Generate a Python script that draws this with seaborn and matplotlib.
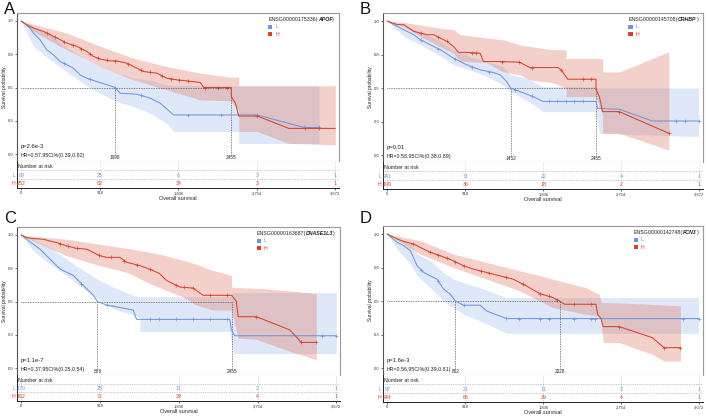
import numpy as np
import pandas as pd
import matplotlib
matplotlib.use("Agg")
import matplotlib.pyplot as plt
import seaborn as sns
from matplotlib.offsetbox import AnchoredOffsetbox, VPacker, HPacker, TextArea, DrawingArea
from matplotlib.patches import Rectangle

sns.set_theme(style="white")
plt.rcParams['font.family'] = ['Liberation Sans', 'DejaVu Sans']

# ---------------- data ----------------
risk_ticks = [0, 918, 1836, 2754, 3672]
risk_tick_labels = ['0', '918', '1,836', '2,754', '3,672']
y_ticks = [0, 0.25, 0.5, 0.75, 1.0]
y_tick_labels = ['0.0', '0.3', '0.5', '0.8', '1.0']

# Panel A  (APOF)
A_ens, A_gene = 'ENSG00000175336', 'APOF'
A_p, A_hr = 'p=2.6e-3', 'HR=0.57,95CI%(0.39,0.82)'
A_med_L, A_med_H = 1098, 2455
A_risk_L = [89, 25, 6, 3, 1]
A_risk_H = [252, 82, 34, 3, 1]
A_L_t = [0, 102, 141, 219, 297, 375, 453, 531, 609, 688, 766, 883, 1039, 1098, 1156, 1351, 1508, 1625, 1781, 2758, 3305, 3480]
A_L_s = [1.0, 0.947, 0.91, 0.859, 0.784, 0.746, 0.696, 0.671, 0.646, 0.595, 0.570, 0.545, 0.513, 0.50, 0.457, 0.45, 0.42, 0.382, 0.294, 0.294, 0.2, 0.2]
A_L_cens = [500, 800, 1100, 1400, 1950, 2330, 2760, 3300, 3480]
A_L_ci_t = [0, 141, 336, 531, 727, 922, 1117, 1312, 1508, 1703, 1781, 2543, 2543, 3480]
A_L_lo = [1, 0.81, 0.71, 0.62, 0.53, 0.457, 0.394, 0.357, 0.306, 0.23, 0.168, 0.168, 0.08, 0.08]
A_L_hi = [1, 0.96, 0.897, 0.80, 0.72, 0.658, 0.61, 0.57, 0.555, 0.52, 0.513, 0.513, 0.513, 0.513]
A_H_t = [0, 62, 141, 258, 336, 453, 531, 648, 766, 844, 922, 1039, 1117, 1234, 1312, 1430, 1586, 1703, 1820, 1937, 2094, 2133, 2455, 2455, 2504, 2543, 2758, 3129, 3672]
A_H_s = [1.0, 0.972, 0.947, 0.922, 0.897, 0.86, 0.834, 0.81, 0.771, 0.734, 0.714, 0.70, 0.70, 0.683, 0.658, 0.62, 0.608, 0.57, 0.558, 0.55, 0.538, 0.50, 0.50, 0.432, 0.382, 0.286, 0.286, 0.193, 0.193]
A_H_cens = [300, 400, 500, 600, 700, 800, 900, 1000, 1100, 1250, 1400, 1500, 1650, 1750, 1850, 1950, 2150, 2300, 2400, 2760, 3320, 3480]
A_H_ci_t = [0, 141, 531, 922, 1312, 1703, 2094, 2445, 2543, 2543, 2758, 3129, 3672]
A_H_lo = [1, 0.92, 0.784, 0.658, 0.558, 0.482, 0.407, 0.40, 0.33, 0.17, 0.17, 0.08, 0.07]
A_H_hi = [1, 0.975, 0.91, 0.81, 0.72, 0.658, 0.608, 0.578, 0.578, 0.513, 0.513, 0.513, 0.513]

# Panel B  (CRHBP)
B_ens, B_gene = 'ENSG00000145708', 'CRHBP'
B_p, B_hr = 'p=0.01', 'HR=0.58,95CI%(0.38,0.89)'
B_med_L, B_med_H = 1452, 2455
B_risk_L = [241, 71, 22, 4, 1]
B_risk_H = [100, 36, 18, 2, 1]
B_L_t = [0, 78, 195, 312, 390, 507, 624, 780, 936, 1092, 1247, 1325, 1403, 1452, 1559, 1715, 1832, 2456, 2475, 2729, 3118, 3664]
B_L_s = [1.0, 0.973, 0.935, 0.898, 0.860, 0.823, 0.786, 0.723, 0.673, 0.636, 0.616, 0.60, 0.55, 0.50, 0.474, 0.436, 0.40, 0.40, 0.349, 0.342, 0.254, 0.254]
B_L_cens = [400, 600, 800, 1000, 1200, 1500, 1700, 1900, 2000, 2100, 2200, 2300, 3400, 3500, 3664]
B_L_ci_t = [0, 195, 390, 624, 780, 975, 1169, 1364, 1442, 1637, 1832, 2456, 2495, 3664]
B_L_lo = [1, 0.885, 0.823, 0.74, 0.673, 0.636, 0.586, 0.524, 0.474, 0.41, 0.324, 0.324, 0.162, 0.137]
B_L_hi = [1, 0.97, 0.92, 0.85, 0.786, 0.735, 0.698, 0.66, 0.6, 0.574, 0.511, 0.508, 0.5, 0.5]
B_H_t = [0, 117, 195, 253, 312, 390, 468, 546, 624, 702, 780, 838, 936, 1092, 1131, 1325, 1559, 1676, 1910, 2007, 2046, 2124, 2339, 2456, 2456, 2495, 2534, 2729, 3313]
B_H_s = [1.0, 0.973, 0.973, 0.948, 0.923, 0.910, 0.898, 0.898, 0.873, 0.848, 0.810, 0.766, 0.766, 0.760, 0.698, 0.698, 0.693, 0.653, 0.653, 0.653, 0.636, 0.566, 0.566, 0.566, 0.491, 0.436, 0.324, 0.324, 0.162]
B_H_cens = [400, 600, 700, 1000, 1050, 1350, 1550, 1700, 2050, 2300, 2400, 2729, 3313]
B_H_ci_t = [0, 195, 390, 585, 780, 858, 1170, 1365, 1559, 1676, 1949, 2105, 2105, 2456, 2534, 2534, 2729, 3313]
B_H_lo = [1, 0.96, 0.885, 0.82, 0.76, 0.70, 0.69, 0.62, 0.60, 0.56, 0.54, 0.50, 0.436, 0.436, 0.30, 0.162, 0.162, 0.037]
B_H_hi = [1, 0.99, 0.97, 0.95, 0.935, 0.90, 0.873, 0.86, 0.823, 0.81, 0.786, 0.786, 0.72, 0.72, 0.72, 0.62, 0.62, 0.77]

# Panel C  (DNASE1L3)
C_ens, C_gene = 'ENSG00000163687', 'DNASE1L3'
C_p, C_hr = 'p=1.1e-7', 'HR=0.37,95CI%(0.25,0.54)'
C_med_L, C_med_H = 888, 2455
C_risk_L = [179, 25, 11, 2, 1]
C_risk_H = [162, 72, 29, 4, 1]
C_L_t = [0, 62, 140, 217, 295, 373, 450, 528, 606, 683, 761, 839, 888, 994, 1110, 1305, 1343, 1460, 2430, 2449, 2488, 3672]
C_L_s = [1.0, 0.968, 0.931, 0.894, 0.844, 0.795, 0.745, 0.72, 0.696, 0.646, 0.597, 0.547, 0.50, 0.473, 0.46, 0.436, 0.366, 0.366, 0.366, 0.287, 0.243, 0.243]
C_L_cens = [700, 1000, 1500, 1600, 1800, 2000, 2200, 2400, 3500, 3672]
C_L_ci_t = [0, 140, 334, 528, 722, 916, 1110, 1304, 1382, 1382, 2430, 2469, 3672]
C_L_lo = [1, 0.881, 0.782, 0.696, 0.597, 0.51, 0.436, 0.40, 0.38, 0.275, 0.275, 0.109, 0.109]
C_L_hi = [1, 0.968, 0.906, 0.82, 0.733, 0.658, 0.597, 0.547, 0.535, 0.535, 0.535, 0.567, 0.567]
C_H_t = [0, 62, 140, 256, 334, 411, 532, 644, 761, 839, 916, 994, 1149, 1227, 1382, 1537, 1615, 1693, 1848, 2003, 2119, 2313, 2453, 2507, 2527, 2741, 3129, 3265, 3439]
C_H_s = [1.0, 0.98, 0.973, 0.968, 0.955, 0.943, 0.918, 0.899, 0.894, 0.869, 0.844, 0.832, 0.832, 0.795, 0.770, 0.733, 0.708, 0.658, 0.609, 0.601, 0.547, 0.547, 0.547, 0.50, 0.386, 0.386, 0.287, 0.193, 0.193]
C_H_cens = [450, 550, 650, 900, 1050, 1200, 1350, 1500, 1800, 1900, 2000, 2200, 2400, 2741, 3265, 3439]
C_H_ci_t = [0, 140, 528, 916, 1227, 1499, 1693, 1887, 2042, 2236, 2450, 2450, 2527, 2741, 3129, 3439]
C_H_lo = [1, 0.955, 0.844, 0.77, 0.72, 0.634, 0.584, 0.535, 0.473, 0.436, 0.436, 0.436, 0.225, 0.215, 0.126, 0.064]
C_H_hi = [1, 0.99, 0.968, 0.93, 0.90, 0.87, 0.844, 0.81, 0.78, 0.733, 0.696, 0.609, 0.605, 0.60, 0.58, 0.56]

# Panel D  (FCN3)
D_ens, D_gene = 'ENSG00000142748', 'FCN3'
D_p, D_hr = 'p=1.6e-3', 'HR=0.56,95CI%(0.39,0.81)'
D_med_L, D_med_H = 802, 2028
D_risk_L = [97, 21, 11, 2, 1]
D_risk_H = [244, 66, 29, 4, 1]
D_L_t = [0, 117, 195, 273, 351, 429, 507, 585, 663, 741, 802, 897, 1091, 1169, 1403, 3664]
D_L_s = [1.0, 0.938, 0.913, 0.875, 0.763, 0.713, 0.688, 0.663, 0.589, 0.551, 0.50, 0.469, 0.469, 0.426, 0.369, 0.369]
D_L_cens = [400, 600, 900, 1400, 1550, 1800, 1900, 2200, 2400, 2450, 3480, 3664]
D_L_ci_t = [0, 117, 273, 351, 507, 663, 780, 897, 1091, 1403, 3664]
D_L_lo = [1, 0.888, 0.776, 0.688, 0.6, 0.501, 0.451, 0.401, 0.352, 0.259, 0.259]
D_L_hi = [1, 0.975, 0.925, 0.85, 0.8, 0.713, 0.663, 0.638, 0.6, 0.526, 0.526]
D_H_t = [0, 117, 195, 312, 390, 507, 624, 780, 897, 1014, 1169, 1325, 1481, 1637, 1793, 1949, 2028, 2085, 2456, 2475, 2514, 2541, 2729, 3118, 3255, 3450]
D_H_s = [1.0, 0.963, 0.945, 0.925, 0.90, 0.863, 0.838, 0.80, 0.763, 0.738, 0.713, 0.688, 0.663, 0.613, 0.556, 0.526, 0.50, 0.476, 0.476, 0.401, 0.369, 0.309, 0.309, 0.227, 0.152, 0.152]
D_H_cens = [300, 500, 600, 700, 800, 900, 1100, 1200, 1400, 1600, 1800, 1900, 2000, 2200, 2400, 2729, 3255, 3450]
D_H_ci_t = [0, 390, 780, 1169, 1559, 1793, 1949, 2339, 2495, 2514, 2541, 2729, 3118, 3255, 3450]
D_H_lo = [1, 0.85, 0.75, 0.663, 0.576, 0.5, 0.451, 0.401, 0.39, 0.35, 0.19, 0.19, 0.102, 0.052, 0.052]
D_H_hi = [1, 0.95, 0.85, 0.788, 0.726, 0.69, 0.663, 0.6, 0.551, 0.489, 0.489, 0.485, 0.475, 0.47, 0.464]

# ---------------- style ----------------
BLUE = '#7095DA'
RED = '#D6432C'
BLUE_FILL = '#8AAEE6'
RED_FILL = '#DE6F5C'
W, H = 708, 416

panels = {}
for k in 'ABCD':
    g = globals()
    panels[k] = dict(
        ens=g[k + '_ens'], gene=g[k + '_gene'], p=g[k + '_p'], hr=g[k + '_hr'],
        med=(g[k + '_med_L'], g[k + '_med_H']),
        risk=(g[k + '_risk_L'], g[k + '_risk_H']),
        L=dict(t=g[k + '_L_t'], s=g[k + '_L_s'], c=g[k + '_L_cens'],
               ct=g[k + '_L_ci_t'], lo=g[k + '_L_lo'], hi=g[k + '_L_hi']),
        H=dict(t=g[k + '_H_t'], s=g[k + '_H_s'], c=g[k + '_H_cens'],
               ct=g[k + '_H_ci_t'], lo=g[k + '_H_lo'], hi=g[k + '_H_hi']),
    )

# layout (pixel boxes: left, top, right, bottom of main plot; bottom of risk table; letter pos)
layout = {
    'A': ((17, 13, 339, 161), 188, (4, 2)),
    'B': ((383, 13, 703, 162), 189, (360, 2)),
    'C': ((17, 227, 340, 375), 401, (4, 211)),
    'D': ((383, 226, 703, 375), 402, (360, 211)),
}

fig = plt.figure(figsize=(W / 100, H / 100), dpi=100)
TICK_FS = 3.0
LEG_FS = 3.8
TXT_FS = 3.8
XLIM = (-50, 3715)
YLIM = (-0.052, 1.06)
INK = '#222222'


def legend_box(ax, ens, gene):
    tp = dict(fontsize=LEG_FS, color=INK)
    title = HPacker(children=[TextArea(ens + '(', textprops=tp),
                              TextArea(gene, textprops=dict(fontsize=LEG_FS, color=INK,
                                                            style='italic', weight='bold')),
                              TextArea(')', textprops=tp)],
                    sep=0, pad=0, align='baseline')

    def item(col, lab):
        da = DrawingArea(3.0, 3.0, 0, 0)
        da.add_artist(Rectangle((0, 0), 3.0, 3.0, fc=col, ec='none'))
        return HPacker(children=[da, TextArea(lab, textprops=dict(fontsize=LEG_FS, color=col))],
                       sep=2, pad=0, align='center')

    box = VPacker(children=[title, item(BLUE, 'L'), item(RED, 'H')], sep=1.8, pad=0, align='left')
    anch = AnchoredOffsetbox(loc='upper right', child=box, pad=0, borderpad=0, frameon=False,
                             bbox_to_anchor=(0.985, 0.975), bbox_transform=ax.transAxes)
    ax.add_artist(anch)


for key, P in panels.items():
    (l, t, r, b), rb, (lx, ly) = layout[key]
    ax = fig.add_axes([l / W, 1 - b / H, (r - l) / W, (b - t) / H])
    axr = fig.add_axes([l / W, 1 - rb / H, (r - l) / W, (rb - b) / H])

    # confidence bands
    ax.fill_between(P['L']['ct'], P['L']['lo'], P['L']['hi'], color=BLUE_FILL, alpha=0.28, lw=0)
    ax.fill_between(P['H']['ct'], P['H']['lo'], P['H']['hi'], color=RED_FILL, alpha=0.32, lw=0)

    # median guides
    mL, mH = P['med']
    ax.plot([0, max(mL, mH)], [0.5, 0.5], ls=(0, (1, 1.2)), color='#444444', lw=0.55)
    for m in (mL, mH):
        ax.plot([m, m], [0, 0.5], ls=(0, (1, 1.2)), color='#444444', lw=0.55)
        ax.text(m, -0.008, str(m), ha='center', va='top', fontsize=3.4, color=INK)

    # curves
    for grp, col in (('L', BLUE), ('H', RED)):
        d = P[grp]
        df = pd.DataFrame({'t': d['t'], 's': d['s']})
        sns.lineplot(data=df, x='t', y='s', ax=ax, color=col, lw=0.75, sort=False,
                     estimator=None, legend=False)
        cy = np.interp(d['c'], d['t'], d['s'])
        sns.scatterplot(x=d['c'], y=cy, ax=ax, marker='+', s=7, color=col, linewidth=0.45,
                        legend=False)

    ax.set_xlim(*XLIM)
    ax.set_ylim(*YLIM)
    ax.set_xticks([])
    ax.set_yticks(y_ticks)
    ax.set_yticklabels(y_tick_labels)
    ax.tick_params(axis='y', left=True, length=1.5, width=0.5, labelsize=TICK_FS, pad=0.8,
                   colors='#333333')
    ax.set_xlabel('')
    ax.set_ylabel('Survival probability', fontsize=3.5, color=INK)
    ax.yaxis.set_label_coords(-0.03, 0.5)
    for sp in ax.spines.values():
        sp.set_color('#9a9a9a')
        sp.set_linewidth(0.8)
    ax.spines['left'].set_color('#555555')

    ax.text(0.012, 0.097, P['p'], transform=ax.transAxes, fontsize=4.2, va='center', color=INK)
    ax.text(0.012, 0.036, P['hr'], transform=ax.transAxes, fontsize=TXT_FS, va='center', color=INK)
    legend_box(ax, P['ens'], P['gene'])

    # risk table
    axr.set_xlim(*XLIM)
    axr.set_ylim(0, 1)
    axr.set_yticks([])
    axr.set_xticks(risk_ticks)
    axr.set_xticklabels(risk_tick_labels)
    axr.tick_params(axis='x', bottom=True, length=1.5, width=0.5, labelsize=TICK_FS, pad=0.8,
                    colors='#333333')
    for sp in ('top', 'right'):
        axr.spines[sp].set_visible(False)
    for sp in ('left', 'bottom'):
        axr.spines[sp].set_color('#222222')
        axr.spines[sp].set_linewidth(0.7)
    for xt in risk_ticks:
        axr.axvline(xt, ls=(0, (1, 1.5)), color='#bbbbbb', lw=0.5)
    for yy in (0.667, 0.333):
        axr.axhline(yy, ls=(0, (1, 1.5)), color='#999999', lw=0.5)
    axr.text(0.004, 0.79, 'Number at risk', transform=axr.transAxes, fontsize=TXT_FS,
             va='center', ha='left', color=INK)
    for row, (grp, col, yy) in enumerate((('L', BLUE, 0.48), ('H', RED, 0.17))):
        axr.text(-0.004, yy, grp, transform=axr.transAxes, fontsize=TXT_FS, va='center',
                 ha='right', color=col)
        for xt, n in zip(risk_ticks, P['risk'][row]):
            axr.text(xt, yy, str(n), fontsize=TXT_FS, va='center', ha='center', color=col)
    axr.set_xlabel('Overall survival', fontsize=4.0, labelpad=0.5, color=INK)

    fig.text(lx / W, 1 - ly / H, key, fontsize=12, va='top', ha='left', color='#111111')

fig.savefig('out.png', dpi=100)
